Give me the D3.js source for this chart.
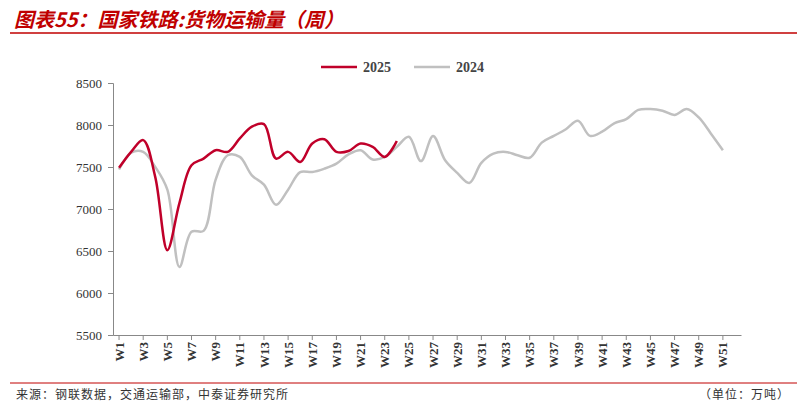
<!DOCTYPE html>
<html>
<head>
<meta charset="utf-8">
<script src="https://d3js.org/d3.v7.min.js"></script>
<style>
  html, body { margin: 0; padding: 0; background: #fff; }
  text { font-family: "Liberation Serif", "Times New Roman", serif; }
  .cn { font-family: "Noto Sans CJK SC", sans-serif; }
</style>
</head>
<body>
<div id="chart"></div>
<script>
var w = 803, h = 407;

var weeks = d3.range(1, 53).map(function(i) { return "W" + i; });
var yTicks = [5500, 6000, 6500, 7000, 7500, 8000, 8500];

var s2025 = [7490, 7680, 7820, 7380, 6510, 7070, 7520, 7600, 7700, 7680, 7840, 7980,
  8010, 7600, 7680, 7560, 7780, 7830, 7680, 7690, 7780, 7740, 7620, 7810];
var s2024 = [7470, 7670, 7680, 7500, 7230, 6310, 6730, 6740, 7350, 7640, 7620, 7400,
  7290, 7050, 7230, 7440, 7440, 7480, 7540, 7650, 7700, 7590, 7620, 7740, 7860,
  7570, 7870, 7580, 7430, 7310, 7550, 7660, 7680, 7640, 7610, 7790, 7870, 7950,
  8050, 7870, 7920, 8020, 8070, 8180, 8190, 8170, 8120, 8190, 8090, 7900, 7700];

var svg = d3.select("#chart").append("svg").attr("width", w).attr("height", h);

// title bar
svg.append("text").attr("class", "cn").attr("x", 14).attr("y", 27)
  .attr("fill", "#c00000").attr("font-size", 20).attr("font-style", "italic").attr("font-weight", "bold")
  .text("图表55：国家铁路:货物运输量（周）");
svg.append("line").attr("x1", 10).attr("x2", 797).attr("y1", 33).attr("y2", 33)
  .attr("stroke", "#c00000").attr("stroke-width", 1.5);

var x = d3.scaleBand().domain(weeks).range([113, 741]);
var y = d3.scaleLinear().domain([5500, 8500]).range([335, 83]);

var yAxis = svg.append("g").attr("transform", "translate(113,0)")
  .call(d3.axisLeft(y).tickValues(yTicks).tickFormat(d3.format("d")).tickSize(5).tickPadding(6));
yAxis.selectAll("text").attr("font-size", 13).attr("fill", "#333")
  .style("font-family", "Liberation Serif");
yAxis.selectAll("line,path").attr("stroke", "#888");

var xAxis = svg.append("g").attr("transform", "translate(0,335)")
  .call(d3.axisBottom(x).tickValues(weeks.filter(function(d, i) { return i % 2 === 0; }))
    .tickSize(5).tickSizeOuter(0));
xAxis.selectAll("line,path").attr("stroke", "#888");
xAxis.selectAll("text").attr("font-size", 13).attr("font-weight", "bold").attr("fill", "#333")
  .style("font-family", "Liberation Serif")
  .attr("transform", "rotate(-90)").attr("text-anchor", "end")
  .attr("x", -7).attr("y", 0).attr("dy", "0.35em");

var line = d3.line()
  .x(function(d, i) { return x(weeks[i]) + x.bandwidth() / 2; })
  .y(function(d) { return y(d); })
  .curve(d3.curveCatmullRom);

svg.append("path").datum(s2024).attr("d", line).attr("fill", "none")
  .attr("stroke", "#c0c0c0").attr("stroke-width", 2.5);
svg.append("path").datum(s2025).attr("d", line).attr("fill", "none")
  .attr("stroke", "#c0002a").attr("stroke-width", 2.5);

// legend
var legend = [["2025", "#c0002a", 321], ["2024", "#c0c0c0", 414]];
legend.forEach(function(l) {
  svg.append("line").attr("x1", l[2]).attr("x2", l[2] + 36).attr("y1", 67).attr("y2", 67)
    .attr("stroke", l[1]).attr("stroke-width", 2.5);
  svg.append("text").attr("x", l[2] + 42).attr("y", 72).attr("font-size", 14)
    .attr("font-weight", "bold").attr("fill", "#444").text(l[0]);
});

// footer
svg.append("line").attr("x1", 10).attr("x2", 797).attr("y1", 383).attr("y2", 383)
  .attr("stroke", "#c00000").attr("stroke-width", 1);
svg.append("text").attr("class", "cn").attr("x", 16).attr("y", 399).attr("font-size", 12)
  .attr("letter-spacing", 1).attr("fill", "#333").text("来源：钢联数据，交通运输部，中泰证券研究所");
svg.append("text").attr("class", "cn").attr("x", 790).attr("y", 399).attr("font-size", 12)
  .attr("letter-spacing", 1).attr("text-anchor", "end").attr("fill", "#333").text("（单位：万吨）");
</script>
</body>
</html>
